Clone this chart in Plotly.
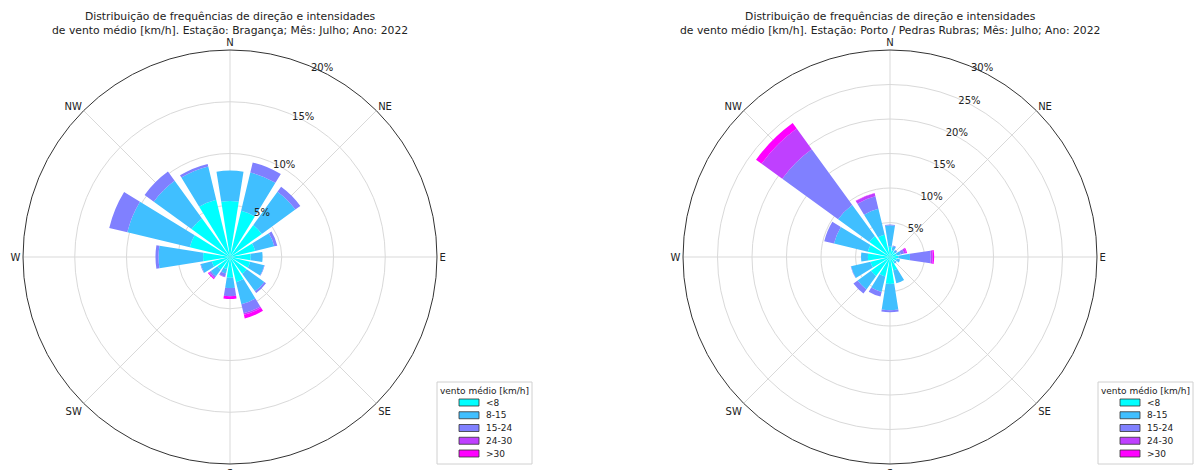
import plotly.graph_objects as go

directions = ["N", "NNE", "NE", "ENE", "E", "ESE", "SE", "SSE",
              "S", "SSW", "SW", "WSW", "W", "WNW", "NW", "NNW"]
angles = [i * 22.5 for i in range(16)]
speed_classes = ["<8", "8-15", "15-24", "24-30", ">30"]
class_colors = ["#00ffff", "#40bfff", "#8080ff", "#bf40ff", "#ff00ff"]

# Bragança, July 2022 - frequency (%) per speed class, per direction
braganca_lt8 = [5.4, 4.6, 3.8, 2.5, 2.0, 2.0, 2.0, 2.5, 2.0, 1.2, 1.5, 1.8, 2.6, 4.0, 4.6, 5.7]
braganca_8_15 = [2.95, 3.8, 4.0, 1.9, 1.15, 1.4, 2.1, 2.2, 1.0, 0.45, 0.8, 1.1, 4.3, 6.2, 4.5, 3.3]
braganca_15_24 = [0.0, 1.0, 0.6, 0.3, 0.0, 0.05, 0.2, 0.9, 0.8, 0.3, 0.15, 0.05, 0.3, 1.8, 1.1, 0.25]
braganca_24_30 = [0.0, 0.0, 0.0, 0.0, 0.0, 0.0, 0.0, 0.15, 0.0, 0.05, 0.1, 0.0, 0.0, 0.0, 0.0, 0.0]
braganca_gt30 = [0.0, 0.0, 0.0, 0.0, 0.0, 0.0, 0.0, 0.35, 0.25, 0.0, 0.1, 0.0, 0.0, 0.0, 0.0, 0.0]

# Porto / Pedras Rubras, July 2022
porto_lt8 = [1.5, 1.0, 0.9, 1.0, 1.2, 1.0, 0.9, 2.0, 3.9, 2.9, 3.4, 2.9, 3.2, 3.3, 3.7, 3.3]
porto_8_15 = [3.1, 0.6, 0.3, 0.6, 1.7, 0.5, 0.3, 1.9, 3.8, 2.3, 2.4, 2.9, 1.0, 5.05, 5.6, 3.9]
porto_15_24 = [0.1, 0.1, 0.1, 0.5, 3.0, 0.0, 0.0, 0.0, 0.3, 0.7, 0.75, 0.05, 0.0, 1.45, 10.0, 1.85]
porto_24_30 = [0.0, 0.0, 0.0, 0.3, 0.3, 0.0, 0.0, 0.0, 0.0, 0.0, 0.0, 0.0, 0.0, 0.0, 3.7, 0.45]
porto_gt30 = [0.0, 0.0, 0.0, 0.15, 0.2, 0.0, 0.0, 0.0, 0.0, 0.0, 0.0, 0.0, 0.0, 0.0, 1.0, 0.05]

compass_ticks = [0, 45, 90, 135, 180, 225, 270, 315]
compass_labels = ["N", "NE", "E", "SE", "S", "SW", "W", "NW"]
braganca_rticks = [5, 10, 15, 20]
porto_rticks = [5, 10, 15, 20, 25, 30]

title_left = "Distribuição de frequências de direção e intensidades<br>de vento médio [km/h]. Estação: Bragança; Mês: Julho; Ano: 2022"
title_right = "Distribuição de frequências de direção e intensidades<br>de vento médio [km/h]. Estação: Porto / Pedras Rubras; Mês: Julho; Ano: 2022"
legend_title = "vento médio [km/h]"

FONT = "DejaVu Sans"
TXT = "#222222"
W, H = 1196, 470

fig = go.Figure()

station_data = [
    ("polar", [braganca_lt8, braganca_8_15, braganca_15_24, braganca_24_30, braganca_gt30]),
    ("polar2", [porto_lt8, porto_8_15, porto_15_24, porto_24_30, porto_gt30]),
]

for subplot, series in station_data:
    for name, color, values in zip(speed_classes, class_colors, series):
        fig.add_trace(go.Barpolar(
            r=values, theta=angles, width=18, name=name,
            marker=dict(color=color, line=dict(width=0)),
            subplot=subplot, showlegend=False,
        ))


def polar_layout(xc, yc, rad, rmax, rticks):
    return dict(
        domain=dict(x=[(xc - rad) / W, (xc + rad) / W],
                    y=[(H - yc - rad) / H, (H - yc + rad) / H]),
        bgcolor="white",
        barmode="stack",
        angularaxis=dict(
            rotation=90, direction="clockwise",
            tickmode="array", tickvals=compass_ticks, ticktext=compass_labels,
            showgrid=True, gridcolor="#d9d9d9", gridwidth=1,
            showline=True, linecolor="#333333", linewidth=1,
            ticks="", tickfont=dict(family=FONT, size=10, color=TXT),
        ),
        radialaxis=dict(
            range=[0, rmax], tickmode="array", tickvals=rticks,
            ticktext=[f"{v}%" for v in rticks],
            angle=68.5, tickangle=68.5, side="clockwise",
            showline=False, ticks="",
            showgrid=True, gridcolor="#d9d9d9", gridwidth=1,
            tickfont=dict(family=FONT, size=10, color=TXT),
        ),
    )


# hand-drawn legend boxes (matplotlib style)
shapes = []
annotations = []


def add_legend(x0, y0):
    box_w, box_h = 95, 82
    shapes.append(dict(type="rect", xref="paper", yref="paper",
                       x0=x0 / W, x1=(x0 + box_w) / W,
                       y0=1 - (y0 + box_h) / H, y1=1 - y0 / H,
                       line=dict(color="#d0d0d0", width=1), fillcolor="white", layer="above"))
    annotations.append(dict(text=legend_title, x=(x0 + box_w / 2) / W, y=1 - (y0 + 9) / H,
                            xref="paper", yref="paper", xanchor="center", yanchor="middle",
                            showarrow=False, font=dict(family=FONT, size=9, color=TXT)))
    for i, (name, color) in enumerate(zip(speed_classes, class_colors)):
        yc = y0 + 20.5 + i * 12.75
        shapes.append(dict(type="rect", xref="paper", yref="paper",
                           x0=(x0 + 22) / W, x1=(x0 + 42) / W,
                           y0=1 - (yc + 3.5) / H, y1=1 - (yc - 3.5) / H,
                           line=dict(color="#333333", width=0.8), fillcolor=color, layer="above"))
        annotations.append(dict(text=name, x=(x0 + 47) / W, y=1 - yc / H,
                                xref="paper", yref="paper", xanchor="left", yanchor="middle",
                                showarrow=False, font=dict(family=FONT, size=9, color=TXT)))


add_legend(437, 382)
add_legend(1098, 382)

for text, xc in ((title_left, 230), (title_right, 890)):
    annotations.append(dict(text=text, x=xc / W, y=1 - 8 / H, xref="paper", yref="paper",
                            xanchor="center", yanchor="top", showarrow=False,
                            font=dict(family=FONT, size=10.8, color=TXT)))

fig.update_layout(
    width=W, height=H,
    margin=dict(l=0, r=0, t=0, b=0, autoexpand=False),
    paper_bgcolor="white", plot_bgcolor="white",
    font=dict(family=FONT, color=TXT),
    showlegend=False,
    polar=polar_layout(230, 257, 207, 20, braganca_rticks),
    polar2=polar_layout(890, 257, 207, 30, porto_rticks),
    shapes=shapes,
    annotations=annotations,
)

fig.write_html("out.html",
               config={"displayModeBar": False},
               post_script="document.body.style.margin='0';document.body.style.overflow='hidden';")
